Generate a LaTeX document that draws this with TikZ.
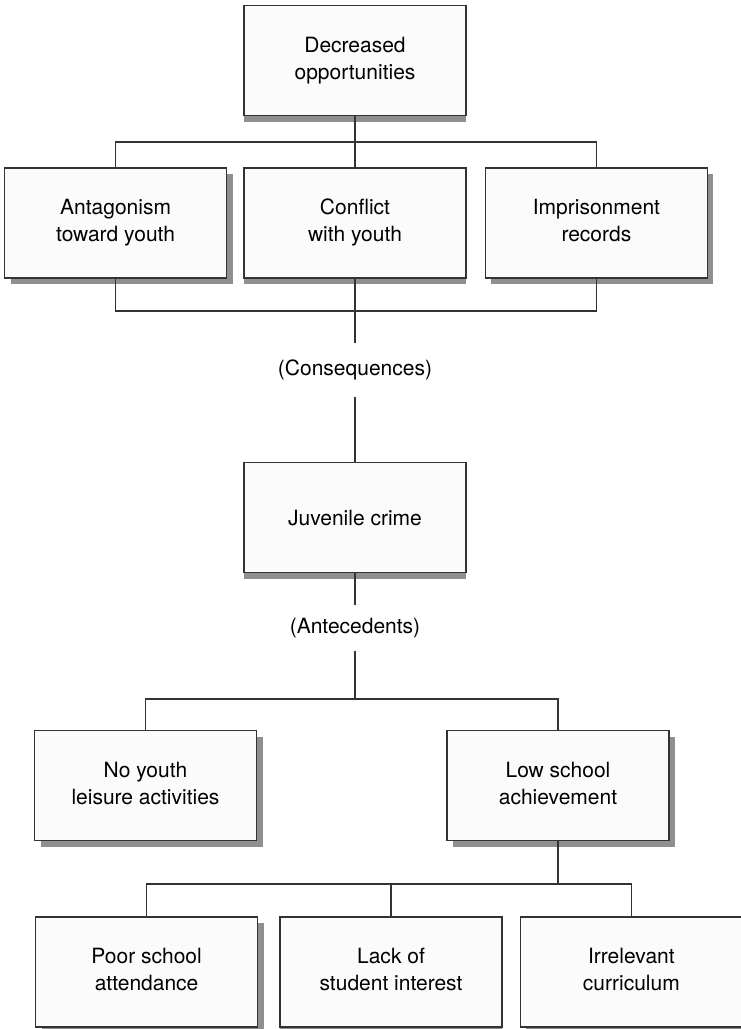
\documentclass[tikz,border=0pt]{standalone}
\usepackage{fontspec}
\setmainfont{TeX Gyre Heros}
\usepackage{tikz}
\usetikzlibrary{positioning,shadows}
\definecolor{boxline}{HTML}{333333}
\definecolor{boxfill}{HTML}{FBFBFB}
\definecolor{shade}{HTML}{8F8F92}

\begin{document}
\begin{tikzpicture}[
  x=1pt, y=-1pt,
  font=\fontsize{21}{27}\selectfont,
  box/.style={rectangle, draw=boxline, fill=boxfill, line width=1.4pt,
    minimum width=222pt, minimum height=110pt, align=center,
    execute at begin node=\rule{0pt}{20pt},
    execute at end node=\rule[-5pt]{0pt}{5pt},
    drop shadow={shadow xshift=#1, shadow yshift=-6pt, fill=shade, opacity=1}},
  box/.default=6pt,
  tag/.style={inner xsep=0pt, inner ysep=#1},
  link/.style={draw=boxline, line width=1.2pt},
]
\useasboundingbox (0,0) rectangle (740,1029);
\node[box=0pt] (dec) at (355,60.5) {Decreased\\opportunities};
\node[box=0pt] (con) at (355,223) {Conflict\\with youth};
\node[box,left=16pt of con] (ant) {Antagonism\\toward youth};
\node[box,right=18pt of con] (imp) {Imprisonment\\records};
\node[tag=17pt] (cons) at (355,370) {(Consequences)};
\node[box=0pt] (juv) at (355,517.5) {Juvenile crime};
\node[tag=13pt] (ante) at (355,628) {(Antecedents)};
\node[box] (noy) at (145.5,785.5) {No youth\\leisure activities};
\node[box] (low) at (558,785.5) {Low school\\achievement};
\node[box=0pt] (lack) at (391,972) {Lack of\\student interest};
\node[box,left=21pt of lack] (poor) {Poor school\\attendance};
\node[box,right=17pt of lack] (irr) {Irrelevant\\curriculum};
\coordinate (upbar) at (355,142);
\coordinate (downbar) at (355,311);
\coordinate (antebar) at (355,699);
\coordinate (lowbar) at (558,884);
\draw[link] (dec) -- (con);
\draw[link] (ant.north) -- (ant.north |- upbar) -- (imp.north |- upbar) -- (imp.north);
\draw[link] (ant.south) -- (ant.south |- downbar) -- (imp.south |- downbar) -- (imp.south);
\draw[link] (con) -- (cons);
\draw[link] (cons) -- (juv);
\draw[link] (juv) -- (ante);
\draw[link] (ante) -- (antebar);
\draw[link] (noy.north) -- (noy.north |- antebar) -- (low.north |- antebar) -- (low.north);
\draw[link] (low) -- (lowbar);
\draw[link] (poor.north) -- (poor.north |- lowbar) -- (irr.north |- lowbar) -- (irr.north);
\draw[link] (lack.north) -- (lack.north |- lowbar);
\end{tikzpicture}
\end{document}
